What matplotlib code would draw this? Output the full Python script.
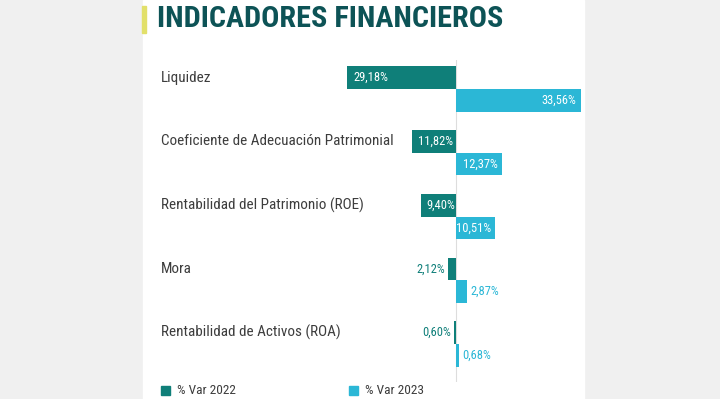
"""Indicadores financieros: % Var 2022 vs 2023, diverging horizontal bars."""
import matplotlib
matplotlib.use("Agg")
import matplotlib.pyplot as plt
from matplotlib import font_manager as fm
from matplotlib.patches import Rectangle
from matplotlib.transforms import blended_transform_factory

categories = [
    "Liquidez",
    "Coeficiente de Adecuación Patrimonial",
    "Rentabilidad del Patrimonio (ROE)",
    "Mora",
    "Rentabilidad de Activos (ROA)",
]
var_2022 = [29.18, 11.82, 9.40, 2.12, 0.60]
var_2023 = [33.56, 12.37, 10.51, 2.87, 0.68]
series_names = ["% Var 2022", "% Var 2023"]
title = "INDICADORES FINANCIEROS"

c22 = "#0f7f79"
c23 = "#2bb7d6"
c_title = "#0d5356"
c_text = "#3d3d3d"
bg = "#f0f0f0"

# pick a narrow face if one is installed
names = {f.name for f in fm.fontManager.ttflist}
if "Roboto Condensed" in names:
    fam = "Roboto Condensed"
elif "Liberation Sans Narrow" in names:
    fam = "Liberation Sans Narrow"
else:
    fam = "Roboto"
plt.rcParams["font.family"] = [fam, "DejaVu Sans"]

W, H = 720, 399
fig = plt.figure(figsize=(7.2, 3.99), dpi=100, facecolor=bg)

def fx(px):
    return px / W

def fy(py):
    return 1 - py / H

# white panel
fig.add_artist(Rectangle((fx(143), 0), fx(584) - fx(143), 1,
                         transform=fig.transFigure, color="white", zorder=0))
# title with yellow mark
fig.add_artist(Rectangle((fx(142), fy(33)), fx(4), 27 / H,
                         transform=fig.transFigure, color="#e2e06a", zorder=1))
fig.text(fx(157), fy(19), title, fontsize=21.7, fontweight="bold",
         color=c_title, va="center", ha="left")

# axes: x from 143 to 584 px, zero at 456 px; y rows from 60 to 382 px
ax = fig.add_axes([fx(143), fy(382), fx(584) - fx(143), (382 - 60) / H])
ax.set_facecolor("none")
ppu = 3.72  # pixels per percentage point
ax.set_xlim(-(456 - 143) / ppu, (584 - 456) / ppu)
row_px = 63.75
ax.set_ylim(4 + (382 - 344) / row_px, -(89 - 60) / row_px)
ax.axis("off")
ax.axvline(0, color="#dddddd", lw=0.8, zorder=1)

h = 0.355
n = len(categories)
ys = list(range(n))
ax.barh([y - h / 2 for y in ys], [-v for v in var_2022], height=h,
        color=c22, zorder=2)
ax.barh([y + h / 2 for y in ys], var_2023, height=h, color=c23, zorder=2)

def fmt(v):
    return f"{v:.2f}".replace(".", ",") + "%"

lab_fs = 9
for y, v in zip(ys, var_2022):
    if v > 8:
        ax.annotate(fmt(v), (-v, y - h / 2), xytext=(4, 0),
                    textcoords="offset points", ha="left", va="center",
                    color="white", fontsize=lab_fs, zorder=3)
    else:
        ax.annotate(fmt(v), (-v, y - h / 2), xytext=(-2, 0),
                    textcoords="offset points", ha="right", va="center",
                    color=c22, fontsize=lab_fs, zorder=3)
for y, v in zip(ys, var_2023):
    if v > 8:
        ax.annotate(fmt(v), (v, y + h / 2), xytext=(-3, 0),
                    textcoords="offset points", ha="right", va="center",
                    color="white", fontsize=lab_fs, zorder=3)
    else:
        ax.annotate(fmt(v), (v, y + h / 2), xytext=(2.5, 0),
                    textcoords="offset points", ha="left", va="center",
                    color=c23, fontsize=lab_fs, zorder=3)

tr = blended_transform_factory(ax.transAxes, ax.transData)
for y, cat in zip(ys, categories):
    ax.text((161 - 143) / 441, y - h / 2, cat, transform=tr, ha="left",
            va="center", fontsize=10.9, color=c_text)

# legend
for x0, name, col in [(161, series_names[0], c22), (349, series_names[1], c23)]:
    fig.add_artist(Rectangle((fx(x0), fy(395)), fx(9), 9 / H,
                             transform=fig.transFigure, color=col))
    fig.text(fx(x0 + 16), fy(390.5), name, fontsize=9.6, color=c_text,
             va="center", ha="left")

fig.savefig("out.png", dpi=100, facecolor=bg)
